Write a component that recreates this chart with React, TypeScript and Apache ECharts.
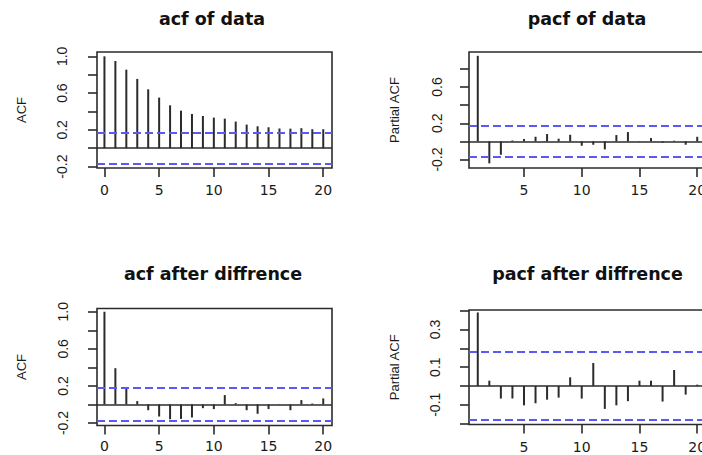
import React, { useEffect, useRef } from "react";
import * as echarts from "echarts";

// ---- data ----
const acfLags = [0, 1, 2, 3, 4, 5, 6, 7, 8, 9, 10, 11, 12, 13, 14, 15, 16, 17, 18, 19, 20];
const pacfLags = [1, 2, 3, 4, 5, 6, 7, 8, 9, 10, 11, 12, 13, 14, 15, 16, 17, 18, 19, 20];

const acfData = [1.0, 0.949, 0.855, 0.754, 0.641, 0.551, 0.467, 0.409, 0.373, 0.351, 0.333,
  0.322, 0.29, 0.257, 0.239, 0.228, 0.215, 0.213, 0.218, 0.207, 0.207];
const pacfData = [0.943, -0.242, -0.147, 0.011, 0.026, 0.051, 0.081, 0.03, 0.073, -0.048,
  -0.037, -0.088, 0.07, 0.103, 0.004, 0.037, -0.013, 0.008, -0.037, 0.051];
const acfDiffData = [1.0, 0.391, 0.174, 0.036, -0.062, -0.13, -0.159, -0.156, -0.141, -0.04, -0.05,
  0.101, 0.014, -0.062, -0.101, -0.05, 0.003, -0.062, 0.047, 0.01, 0.065];
const pacfDiffData = [0.391, 0.028, -0.067, -0.067, -0.103, -0.092, -0.073, -0.062, 0.046, -0.067,
  0.122, -0.122, -0.103, -0.081, 0.028, 0.028, -0.083, 0.085, -0.046, 0.007];

const confData = 0.175;
const confDiff = 0.179;

const titles = ["acf of data", "pacf of data", "acf after diffrence", "pacf after diffrence"];
const yNames = ["ACF", "Partial ACF", "ACF", "Partial ACF"];

const acfXTicks = [0, 5, 10, 15, 20];
const pacfXTicks = [5, 10, 15, 20];
const acfYTicks = [-0.2, 0, 0.2, 0.4, 0.6, 0.8, 1.0];
const acfYLabels = [-0.2, 0.2, 0.6, 1.0];
const pacfYTicks = [-0.2, 0, 0.2, 0.4, 0.6, 0.8];
const pacfYLabels = [-0.2, 0.2, 0.6];
const pacfDiffYTicks = [-0.2, -0.1, 0, 0.1, 0.2, 0.3, 0.4];
const pacfDiffYLabels = [-0.1, 0.1, 0.3];

// ---- layout ----
const panels = [
  { left: 97, top: 52, width: 235, height: 116, xMin: -0.68, xMax: 20.8, yMin: -0.215, yMax: 1.047,
    lags: acfLags, vals: acfData, conf: confData, xTicks: acfXTicks, yTicks: acfYTicks, yLabels: acfYLabels,
    yMargin: 28, xMargin: 15, nameGap: 69, titleX: 212, titleY: 19 },
  { left: 469, top: 52, width: 237, height: 116, xMin: 0.24, xMax: 20.76, yMin: -0.293, yMax: 0.985,
    lags: pacfLags, vals: pacfData, conf: confData, xTicks: pacfXTicks, yTicks: pacfYTicks, yLabels: pacfYLabels,
    yMargin: 25, xMargin: 15, nameGap: 68, titleX: 587, titleY: 19 },
  { left: 97, top: 308.5, width: 235, height: 117, xMin: -0.68, xMax: 20.8, yMin: -0.227, yMax: 1.035,
    lags: acfLags, vals: acfDiffData, conf: confDiff, xTicks: acfXTicks, yTicks: acfYTicks, yLabels: acfYLabels,
    yMargin: 27, xMargin: 13, nameGap: 69, titleX: 213, titleY: 274 },
  { left: 469, top: 310, width: 237, height: 114.5, xMin: 0.24, xMax: 20.76, yMin: -0.205, yMax: 0.404,
    lags: pacfLags, vals: pacfDiffData, conf: confDiff, xTicks: pacfXTicks, yTicks: pacfDiffYTicks, yLabels: pacfDiffYLabels,
    yMargin: 27, xMargin: 15, nameGap: 68, titleX: 587.5, titleY: 274 },
];

const INK = "#2b2b2b";
const BLUE = "#5a5af0";

export default function App() {
  const ref = useRef<HTMLDivElement>(null);

  useEffect(() => {
    if (!ref.current) return;
    const chart = echarts.init(ref.current, undefined, { renderer: "svg" });

    const grid = panels.map((p) => ({
      left: p.left, top: p.top, width: p.width, height: p.height,
      show: true, borderColor: INK, borderWidth: 1.6, backgroundColor: "transparent",
      containLabel: false, outerBoundsMode: "none",
    }));

    const xAxis = panels.map((p, i) => ({
      type: "value", gridIndex: i, min: p.xMin, max: p.xMax, position: "bottom",
      axisLine: { show: false, onZero: false },
      splitLine: { show: false },
      axisTick: { show: true, customValues: p.xTicks, length: 9, lineStyle: { color: INK, width: 1.6 } },
      axisLabel: {
        show: true, customValues: p.xTicks, margin: p.xMargin,
        fontFamily: "DejaVu Sans", fontSize: 14, color: "#1a1a1a",
        formatter: (v: number) => String(Math.round(v)),
      },
    }));

    const yAxis = panels.map((p, i) => ({
      type: "value", gridIndex: i, min: p.yMin, max: p.yMax, position: "left",
      name: yNames[i], nameLocation: "middle", nameRotate: 90, nameGap: p.nameGap,
      nameTextStyle: { fontFamily: "Liberation Sans", fontSize: 13, color: "#1a1a1a" },
      axisLine: { show: false, onZero: false },
      splitLine: { show: false },
      axisTick: { show: true, customValues: p.yTicks, length: 9, lineStyle: { color: INK, width: 1.6 } },
      axisLabel: {
        show: true, customValues: p.yLabels, rotate: 90, margin: p.yMargin,
        fontFamily: "Liberation Sans", fontSize: 14, color: "#1a1a1a",
        formatter: (v: number) => v.toFixed(1),
      },
    }));

    const series = panels.map((p, i) => ({
      type: "bar", xAxisIndex: i, yAxisIndex: i, barWidth: 2,
      data: p.lags.map((l, k) => [l, p.vals[k]]),
      itemStyle: { color: INK },
      markLine: {
        silent: true, symbol: ["none", "none"], label: { show: false },
        data: [
          { yAxis: 0, lineStyle: { color: INK, type: "solid", width: 1.6 } },
          { yAxis: p.conf, lineStyle: { color: BLUE, type: [8, 4], width: 1.8 } },
          { yAxis: -p.conf, lineStyle: { color: BLUE, type: [8, 4], width: 1.8 } },
        ],
      },
    }));

    const graphic = panels.map((p, i) => ({
      type: "text", x: p.titleX, y: p.titleY,
      style: {
        text: titles[i], align: "center", verticalAlign: "middle",
        font: "bold 17.5px 'DejaVu Sans'", fill: "#111",
      },
    }));

    chart.setOption({
      animation: false,
      backgroundColor: "#fff",
      grid, xAxis, yAxis, series, graphic,
    } as any);

    return () => chart.dispose();
  }, []);

  return (
    <div style={{ position: "fixed", left: 0, top: 0, width: 702, height: 455, overflow: "hidden", background: "#fff" }}>
      <div ref={ref} style={{ width: 712, height: 455 }} />
    </div>
  );
}
